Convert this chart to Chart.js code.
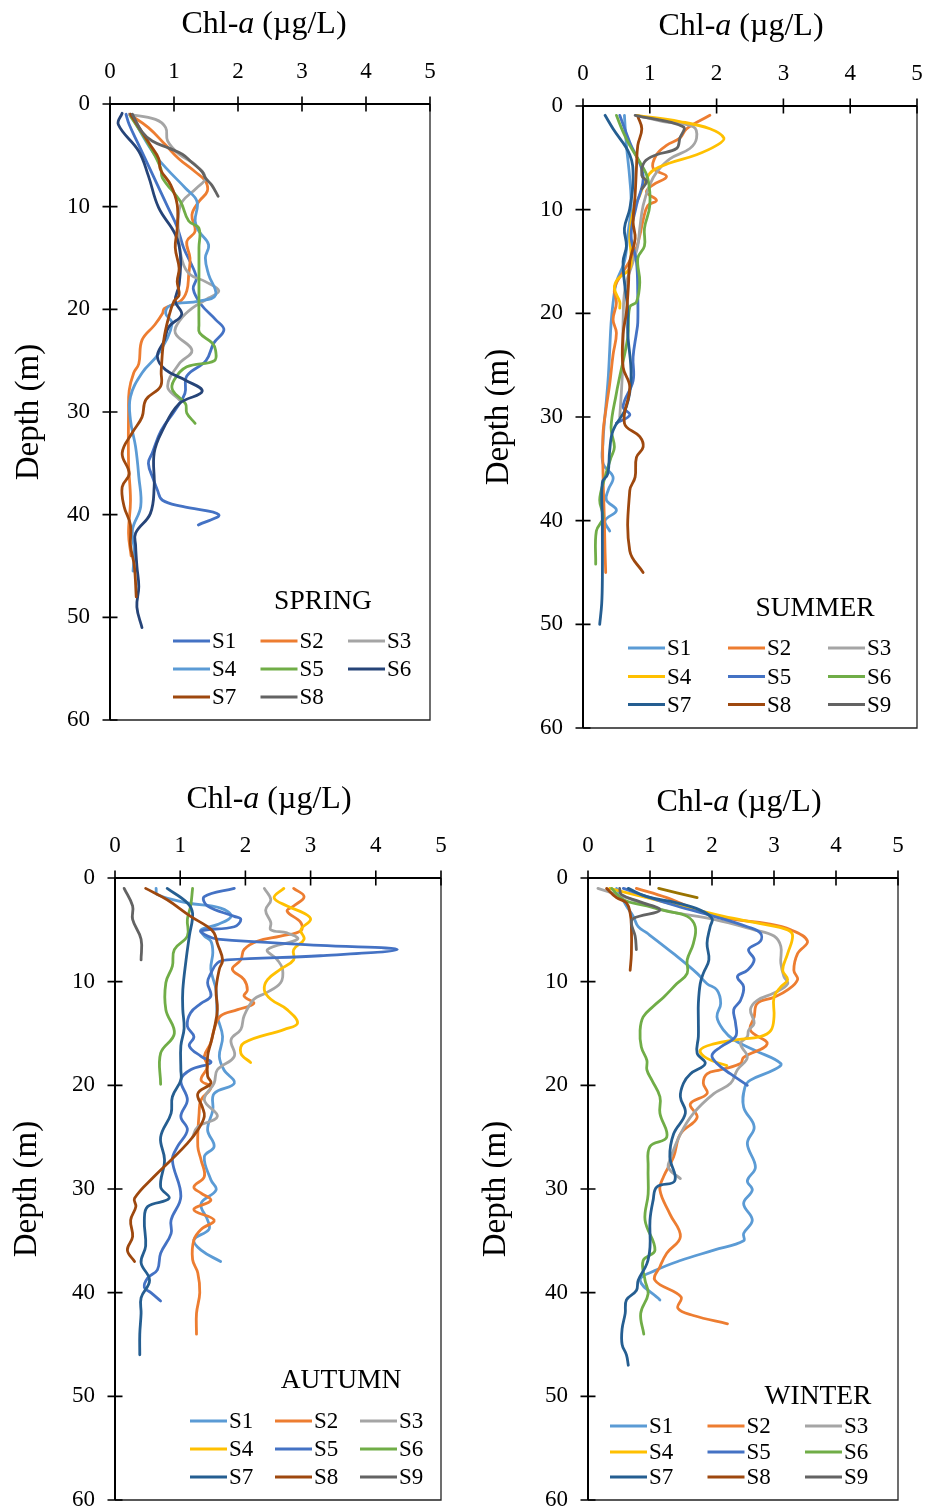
<!DOCTYPE html>
<html>
<head>
<meta charset="utf-8">
<script src="https://cdn.jsdelivr.net/npm/chart.js@4.4.1/dist/chart.umd.min.js"></script>
<style>
  html, body { margin: 0; padding: 0; background: #fff; }
  #wrap { position: relative; width: 934px; height: 1512px; overflow: hidden; }
  .panel { position: absolute; width: 467px; height: 756px; }
  canvas { display: block; }
</style>
</head>
<body>
<div id="wrap">
  <div class="panel" style="left:0;top:0"><canvas id="spring" width="467" height="756"></canvas></div>
  <div class="panel" style="left:467px;top:0"><canvas id="summer" width="467" height="756"></canvas></div>
  <div class="panel" style="left:0;top:756px"><canvas id="autumn" width="467" height="756"></canvas></div>
  <div class="panel" style="left:467px;top:756px"><canvas id="winter" width="467" height="756"></canvas></div>
</div>
<script>
// Eixos
const CHL_TICKS = [0, 1, 2, 3, 4, 5];
const DEPTH_TICKS = [0, 10, 20, 30, 40, 50, 60];

const LABELS_SPRING = ['S1', 'S2', 'S3', 'S4', 'S5', 'S6', 'S7', 'S8'];
const LABELS_OTHER = ['S1', 'S2', 'S3', 'S4', 'S5', 'S6', 'S7', 'S8', 'S9'];
const LABELS_WINTER = ['S1', 'S2', 'S3', 'S4', 'S5', 'S6', 'S7', 'S8', 'S9', ''];

const COLORS_SPRING = ['#4472C4', '#ED7D31', '#A5A5A5', '#5B9BD5', '#70AD47', '#264478', '#9E480E', '#636363'];
const COLORS_OTHER = ['#5B9BD5', '#ED7D31', '#A5A5A5', '#FFC000', '#4472C4', '#70AD47', '#255E91', '#9E480E', '#636363', '#997300'];

// Perfis: [profundidade (m), Chl-a (µg/L)]
// SPRING
const SPRING_S1 = [[1,0.25],[2,0.3],[4,0.45],[6,0.6],[8,0.75],[10,0.9],[12,1.05],[14,1.15],[16,1.3],[17,1.35],[18,1.3],[19.5,1.42],[21,1.65],[22,1.78],[23.3,1.62],[25,1.5],[26.5,1.2],[28.2,1.17],[29.8,1.02],[31.8,0.8],[34,0.66],[35,0.6],[36.6,0.68],[37.6,0.74],[38.6,0.82],[39.2,1.13],[40,1.7],[41,1.38]];
const SPRING_S2 = [[1,0.3],[2.3,0.6],[4,0.87],[5.3,1.07],[6.6,1.33],[7.5,1.49],[8.5,1.52],[9.5,1.39],[10.8,1.28],[12.4,1.33],[13.4,1.2],[15,1.25],[16.6,1.23],[18.2,1.2],[19.2,1.1],[19.9,0.85],[20.4,0.82],[21.5,0.7],[23,0.5],[25.3,0.45],[26.2,0.37],[27.9,0.3],[30,0.29],[35,0.29],[38.6,0.32],[41.8,0.29],[44,0.33]];
const SPRING_S3 = [[1,0.3],[1.5,0.71],[2.3,0.87],[3.6,0.9],[4.9,1.08],[5.9,1.33],[7.2,1.49],[8.2,1.35],[9.5,1.13],[10.8,1.07],[12.7,1.07],[15.3,1.13],[16.6,1.25],[17.3,1.49],[18.2,1.7],[18.9,1.54],[19.9,1.28],[21,1.1],[22.3,1.02],[24,1.28],[25.3,1.08],[27.5,0.9],[28.8,1.08]];
const SPRING_S4 = [[1,0.32],[4.6,0.66],[6.2,0.87],[8.2,1.18],[9.5,1.36],[11.4,1.33],[12.4,1.39],[13.7,1.54],[15,1.49],[16.6,1.54],[18.6,1.65],[19.2,1.39],[19.6,0.95],[20.4,0.87],[21.4,0.97],[24.3,0.76],[26.2,0.5],[28.5,0.32],[30.8,0.32],[33.4,0.4],[36.3,0.45],[39.2,0.48],[41.5,0.35],[43.5,0.38],[45.5,0.36]];
const SPRING_S5 = [[1.2,0.32],[4,0.61],[6.2,0.79],[7.2,0.82],[9.5,1.1],[11.4,1.23],[12.1,1.39],[14,1.39],[18,1.39],[21.5,1.39],[22.3,1.4],[23.3,1.6],[24,1.65],[25,1.63],[25.6,1.2],[26.9,1.0],[27.9,0.98],[29.2,1.18],[30.1,1.2],[31.1,1.33]];
const SPRING_S6 = [[0.9,0.19],[2,0.13],[4.6,0.45],[7,0.6],[10.1,0.76],[12.7,1.02],[14.7,1.1],[17.6,1.08],[19.2,1.02],[20.5,1.12],[21.7,0.92],[23,0.85],[24.6,0.74],[25.9,0.87],[26.9,1.18],[28,1.44],[29.2,1.08],[31.8,0.82],[34,0.69],[37.3,0.69],[39.9,0.63],[41.8,0.4],[43,0.4],[45,0.42],[47,0.45],[49,0.42],[51,0.5]];
const SPRING_S7 = [[1,0.32],[4,0.63],[5.3,0.76],[6.4,0.79],[7.9,0.95],[9.8,1.05],[12.1,1.05],[14,1.02],[16,1.08],[17.3,1.05],[18.6,1.08],[19.2,1.0],[20.7,0.92],[23,0.84],[26,0.8],[27.5,0.79],[28.8,0.56],[30.5,0.5],[32,0.35],[34,0.19],[36,0.3],[37.3,0.19],[39.2,0.22],[41,0.32],[43,0.32],[45,0.38],[48,0.41]];
const SPRING_S8 = [[1,0.35],[2.7,0.5],[3.6,0.66],[4.3,0.92],[4.9,1.13],[5.7,1.28],[6.6,1.44],[7.2,1.49],[7.9,1.59],[9,1.69]];

// SUMMER
const SUMMER_S1 = [[0.9,0.62],[3.8,0.65],[7,0.7],[9.6,0.72],[12.5,0.67],[15,0.62],[17,0.5],[19,0.45],[21,0.42],[23.5,0.4],[26,0.38],[28.4,0.35],[30.5,0.32],[32.3,0.3],[34.5,0.3],[35.8,0.45],[37,0.38],[38,0.35],[39,0.5],[40,0.33],[41,0.4]];
const SUMMER_S2 = [[0.9,1.9],[2.2,1.55],[3.1,1.45],[3.8,1.25],[4.7,1.1],[6,1.05],[6.8,1.25],[7.6,1.05],[8.3,0.95],[9.1,1.1],[9.6,0.97],[11,0.9],[12.5,0.85],[14,0.78],[16,0.6],[17.6,0.47],[19,0.5],[20.6,0.45],[21.9,0.5],[24,0.45],[26.8,0.4],[29,0.35],[31.6,0.3],[35.5,0.3],[40,0.32],[43,0.33],[45,0.34]];
const SUMMER_S3 = [[0.9,0.8],[1.5,1.2],[2,1.65],[3.1,1.7],[4.1,1.6],[5.1,1.3],[6.4,1.1],[7.6,1.0],[9.6,0.9],[11.8,0.85],[13.5,0.82],[15,0.75],[17.6,0.63],[20.9,0.6],[24,0.6],[27,0.58],[30,0.55]];
const SUMMER_S4 = [[0.9,0.8],[1.5,1.45],[2.2,1.9],[3.1,2.11],[3.8,2.0],[4.7,1.7],[5.5,1.3],[6.2,1.05],[7,0.95],[8.6,0.85],[10.2,0.75],[12.5,0.7],[14.4,0.72],[15.7,0.7],[16.7,0.52],[17.6,0.47],[18.9,0.55],[19.5,0.55]];
const SUMMER_S5 = [[0.9,0.55],[3.5,0.7],[6.7,0.9],[9.6,0.8],[12.5,0.72],[15,0.8],[18.3,0.82],[20.9,0.82],[21.9,0.8],[24.2,0.75],[26.5,0.75],[29,0.6],[29.8,0.7],[30.6,0.5]];
const SUMMER_S6 = [[0.9,0.5],[2.5,0.6],[3.8,0.7],[5.4,0.85],[7,0.97],[9.6,1.0],[11.8,0.92],[13.5,0.92],[14.7,0.82],[17,0.85],[18.9,0.8],[19.4,0.7],[22.3,0.67],[26.1,0.55],[27.7,0.5],[31,0.42],[32.9,0.47],[33.9,0.42],[36,0.32],[38,0.25],[39.7,0.3],[41,0.2],[44.2,0.19]];
const SUMMER_S7 = [[0.9,0.33],[2.2,0.45],[4.7,0.7],[7,0.75],[9.9,0.7],[11.8,0.62],[13.5,0.65],[15,0.6],[17,0.62],[19.6,0.67],[21.9,0.67],[26.1,0.72],[29,0.65],[31.3,0.45],[33.2,0.4],[35.5,0.37],[36.3,0.29],[40,0.29],[45.5,0.29],[48,0.28],[50,0.25]];
const SUMMER_S8 = [[1,0.82],[2.2,0.88],[3.8,0.82],[6,0.8],[8.6,0.78],[11.2,0.75],[12.8,0.78],[15,0.7],[17.3,0.68],[19.9,0.65],[22,0.6],[25.2,0.6],[27.1,0.7],[30.6,0.62],[31.9,0.85],[32.9,0.9],[33.9,0.8],[35.8,0.78],[37.1,0.7],[42.9,0.7],[45,0.9]];
const SUMMER_S9 = [[0.9,0.78],[2,1.5],[3.1,1.45],[4.1,1.4],[4.7,1.1],[5.4,0.92],[6.7,0.88],[7.3,0.95],[8,0.88]];

// AUTUMN
const AUTUMN_S1 = [[1,0.63],[1.6,0.65],[2.4,1.11],[2.9,1.62],[3.7,1.78],[4.5,1.57],[5,1.32],[5.6,1.37],[6.1,1.47],[7.2,1.5],[8.8,1.47],[10.8,1.55],[13.3,1.57],[15.3,1.65],[17.2,1.6],[18.5,1.67],[19.8,1.83],[20.8,1.52],[22.4,1.5],[24.3,1.42],[25.9,1.52],[26.9,1.37],[29.1,1.47],[30.1,1.55],[31.4,1.32],[33,1.42],[33.9,1.44],[34.9,1.21],[35.9,1.32],[37,1.62]];
const AUTUMN_S2 = [[1,2.74],[1.8,2.9],[2.7,2.74],[3.2,2.64],[4.3,2.85],[5.1,2.85],[5.6,2.54],[6.1,2.18],[6.9,1.98],[7.9,1.93],[8.8,1.8],[9.8,1.98],[10.8,2.03],[11.4,1.98],[12.1,2.13],[12.7,1.88],[13.3,1.62],[14.6,1.52],[15.9,1.47],[17.2,1.37],[18.2,1.42],[19.5,1.32],[20.2,1.47],[21.4,1.32],[22.7,1.29],[25.9,1.27],[27.2,1.32],[28.8,1.37],[29.8,1.21],[30.4,1.32],[31.1,1.47],[32,1.21],[33,1.52],[33.9,1.32],[34.9,1.21],[36.8,1.19],[38.1,1.27],[40,1.3],[42,1.25],[44,1.25]];
const AUTUMN_S3 = [[1,2.29],[2.1,2.39],[3.1,2.31],[4.3,2.39],[5,2.39],[5.3,2.64],[5.9,2.8],[6.9,2.34],[7.9,2.49],[8.8,2.57],[10.1,2.54],[11.1,2.31],[11.7,2.13],[13.3,1.98],[14.6,1.93],[15.6,1.78],[17.2,1.83],[18.5,1.57],[19.8,1.52],[21.4,1.37],[23,1.57],[24,1.27],[25,1.19]];
const AUTUMN_S4 = [[1,2.59],[1.9,2.44],[2.7,2.64],[3.4,2.9],[4,3.0],[5,2.85],[5.9,2.9],[6.9,2.74],[7.9,2.74],[8.8,2.54],[9.8,2.34],[10.8,2.29],[11.7,2.39],[12.7,2.64],[14,2.8],[14.6,2.6],[15.9,1.98],[16.9,1.93],[17.8,2.08]];
const AUTUMN_S5 = [[1,1.83],[1.8,1.37],[2.7,1.42],[3.7,1.83],[4,1.93],[4.7,1.83],[5.1,1.32],[5.6,1.42],[5.9,1.57],[6.5,3.15],[6.9,4.33],[7.5,3.15],[7.9,1.72],[8.2,1.57],[9.2,1.47],[10.1,1.42],[11.4,1.47],[12.1,1.32],[13,1.16],[14.3,1.11],[15.3,1.21],[16.2,1.14],[17.2,1.32],[17.8,1.47],[18.5,1.16],[19.5,1.01],[21.4,1.11],[23,1.01],[24.3,1.11],[25.9,0.96],[27.2,0.88],[30.7,1.01],[33,0.86],[34.3,0.86],[36.2,0.7],[37.8,0.65],[38.6,0.5],[39.5,0.45],[40,0.55],[40.8,0.7]];
const AUTUMN_S6 = [[1,1.19],[2.7,1.16],[4,1.11],[5.6,1.11],[6.9,0.91],[8.5,0.88],[10.1,0.78],[12.7,0.78],[15,0.91],[16.9,0.7],[19.9,0.7]];
const AUTUMN_S7 = [[1,0.8],[2.4,1.11],[3.4,1.19],[5.6,1.14],[7.9,1.09],[10.8,1.04],[12.7,1.04],[14.5,1.06],[16.2,1.01],[18.5,1.01],[19.5,1.01],[21.1,0.88],[22.7,0.86],[25,0.7],[27.2,0.76],[29.8,0.7],[30.9,0.83],[31.7,0.5],[33,0.45],[35.5,0.47],[37.1,0.4],[38.8,0.53],[40.5,0.4],[42,0.4],[44,0.38],[46,0.38]];
const AUTUMN_S8 = [[1,0.47],[2.1,0.8],[3.7,1.16],[4.7,1.42],[5.3,1.52],[6.3,1.57],[7.9,1.65],[8.8,1.6],[10.8,1.55],[12.7,1.57],[14.6,1.52],[15.9,1.47],[17.2,1.42],[19.1,1.42],[19.8,1.47],[20.8,1.27],[22.1,1.34],[23,1.37],[24.3,1.27],[25.6,1.11],[27.2,0.86],[28.8,0.6],[30.9,0.3],[31.7,0.32],[33,0.24],[34.6,0.27],[35.9,0.19],[37,0.3]];
const AUTUMN_S9 = [[1,0.14],[2.7,0.27],[4,0.27],[5.9,0.4],[7.9,0.4]];

// WINTER
const WINTER_S1 = [[1,0.46],[2.7,0.62],[3.7,0.73],[4.7,0.81],[5.3,0.95],[7.3,1.38],[9.2,1.76],[10.2,1.92],[10.8,2.08],[12.1,2.14],[13.4,2.08],[14.7,2.19],[15.6,2.35],[16.6,2.68],[17.9,3.11],[18.5,3.0],[19.5,2.62],[20.2,2.53],[22.1,2.51],[24,2.68],[25.6,2.57],[27.9,2.7],[29.2,2.57],[30.1,2.65],[31.4,2.51],[33,2.65],[34.3,2.51],[35,2.51],[35.9,2.03],[36.9,1.49],[37.8,1.11],[38.8,0.84],[40.7,1.16]];
const WINTER_S2 = [[1,0.78],[1.9,1.27],[2.7,1.6],[3.4,1.92],[4,2.35],[4.4,2.89],[5,3.27],[6.1,3.54],[7.3,3.38],[8.9,3.32],[9.8,3.38],[10.8,3.22],[11.5,3.0],[12.1,2.73],[13.4,2.68],[14.7,2.62],[16,2.89],[17.3,2.51],[17.9,2.46],[18.5,2.14],[18.9,1.92],[19.8,1.86],[20.8,1.92],[21.8,1.65],[23.1,1.76],[24.7,1.49],[26.9,1.38],[28.8,1.22],[30.1,1.16],[32.4,1.32],[34.6,1.49],[36.2,1.27],[37.5,1.16],[38.8,1.08],[40.4,1.5],[41.5,1.45],[42.2,1.7],[43,2.25]];
const WINTER_S3 = [[1,0.16],[1.8,0.57],[3.1,1.22],[4,2.03],[5,2.68],[5.6,3.0],[6.6,3.11],[8.2,3.11],[9.5,3.16],[10.2,3.22],[11.1,3.0],[11.8,2.73],[12.7,2.62],[14,2.68],[14.7,2.59],[15.3,2.57],[16,2.46],[17.3,2.57],[18.5,2.41],[19.8,2.3],[20.8,2.03],[22.7,1.7],[24.7,1.49],[27.2,1.32],[28,1.3],[29,1.49]];
const WINTER_S4 = [[1,0.35],[1.9,0.95],[2.7,1.49],[3.7,2.19],[4.4,2.78],[5,3.22],[5.6,3.3],[7.3,3.22],[8.9,3.14],[9.8,3.22],[10.5,3.11],[11.5,3.0],[13.4,3.0],[14.7,2.95],[15.3,2.78],[15.6,2.41],[16,2.03],[16.6,1.81],[17.4,1.92],[18.1,2.24]];
const WINTER_S5 = [[1,0.57],[1.8,0.95],[2.7,1.43],[3.7,2.03],[4.7,2.57],[5.3,2.78],[6.1,2.78],[6.9,2.59],[7.9,2.68],[8.9,2.57],[9.5,2.41],[10.5,2.51],[11.8,2.46],[12.7,2.35],[14,2.38],[15.3,2.38],[16.3,2.14],[17.1,2.0],[17.9,2.08],[18.9,2.3],[20,2.57]];
const WINTER_S6 = [[1,0.38],[2.1,0.57],[2.7,0.95],[3.2,1.27],[3.7,1.6],[4.7,1.73],[6.3,1.7],[7.9,1.6],[9.2,1.6],[10.2,1.43],[11.5,1.22],[12.4,1.05],[13.4,0.89],[14.7,0.84],[16.3,0.86],[17.6,0.95],[18.5,0.95],[19.5,1.03],[21.1,1.16],[22.7,1.16],[25,1.27],[25.9,1.0],[27.9,0.97],[30.5,0.97],[33,0.92],[35.9,1.08],[36.9,0.89],[38.8,0.92],[40.1,0.97],[42,0.85],[44,0.9]];
const WINTER_S7 = [[1,0.65],[1.8,0.95],[2.4,1.43],[3.1,1.81],[3.9,2.0],[4.7,1.97],[6.3,1.92],[7.9,1.95],[9.2,1.86],[10.2,1.81],[12.1,1.78],[13.7,1.78],[15.3,1.78],[16.9,1.76],[17.9,1.89],[18.9,1.65],[19.8,1.54],[21.1,1.49],[22.7,1.57],[24.7,1.38],[26.9,1.32],[29.2,1.4],[29.8,1.11],[31.1,1.05],[33,1.0],[35.6,1.0],[37.2,0.95],[38.8,0.81],[39.8,0.78],[40.7,0.62],[42,0.6],[43.5,0.55],[45,0.55],[46,0.62],[47,0.65]];
const WINTER_S8 = [[1,0.3],[1.9,0.46],[2.4,0.62],[3.4,0.68],[4.7,0.7],[7.3,0.7],[8.9,0.68]];
const WINTER_S9 = [[1,0.51],[1.6,0.54],[2.3,0.84],[3.1,1.16],[3.9,0.73],[4.4,0.7],[5.6,0.76],[6.9,0.78]];
const WINTER_S10 = [[1,1.14],[1.9,1.76]];

const FONT = '"Liberation Serif", "Times New Roman", serif';

// Moldura, marcas de escala, título do eixo X e legenda interna
const panelDecor = {
    id: 'panelDecor',
    beforeDatasetsDraw(chart) {
        const ctx = chart.ctx;
        const { left, top, right, bottom } = chart.chartArea;
        const xs = chart.scales.x, ys = chart.scales.y;
        ctx.save();
        ctx.strokeStyle = '#222';
        ctx.lineWidth = 1.3;
        ctx.beginPath();
        ctx.moveTo(right, top);
        ctx.lineTo(right, bottom);
        ctx.lineTo(left, bottom);
        ctx.stroke();
        ctx.strokeStyle = '#000';
        ctx.lineWidth = 2;
        ctx.beginPath();
        ctx.moveTo(left, bottom);
        ctx.lineTo(left, top);
        ctx.lineTo(right, top);
        ctx.stroke();
        ctx.lineWidth = 1.6;
        ctx.beginPath();
        xs.ticks.forEach(t => {
            const px = xs.getPixelForValue(t.value);
            ctx.moveTo(px, top - 7.5);
            ctx.lineTo(px, top + 7.5);
        });
        ys.ticks.forEach(t => {
            const py = ys.getPixelForValue(t.value);
            ctx.moveTo(left - 7.5, py);
            ctx.lineTo(left + 7.5, py);
        });
        ctx.stroke();
        ctx.restore();
    },
    afterDraw(chart, args, opts) {
        const ctx = chart.ctx;
        ctx.save();
        ctx.fillStyle = '#000';
        ctx.textBaseline = 'middle';

        // Chl-a (µg/L) com "a" em itálico
        const parts = [['Chl-', ''], ['a', 'italic '], [' (\u00b5g/L)', '']];
        let total = 0;
        parts.forEach(p => { ctx.font = p[1] + '32px ' + FONT; total += ctx.measureText(p[0]).width; });
        let x = opts.titleX - total / 2;
        ctx.textAlign = 'left';
        parts.forEach(p => {
            ctx.font = p[1] + '32px ' + FONT;
            ctx.fillText(p[0], x, opts.titleY);
            x += ctx.measureText(p[0]).width;
        });

        // estação
        ctx.font = '27.5px ' + FONT;
        ctx.textAlign = 'center';
        ctx.fillText(opts.season, opts.seasonX, opts.seasonY);

        // legenda em 3 colunas
        ctx.font = '23px ' + FONT;
        ctx.textAlign = 'left';
        let k = 0;
        chart.data.datasets.forEach(ds => {
            if (!ds.label) return;
            const col = k % 3, row = Math.floor(k / 3);
            const lx = opts.legendX + col * opts.legendStep;
            const ly = opts.legendRows[row];
            ctx.strokeStyle = ds.borderColor;
            ctx.lineWidth = 3;
            ctx.beginPath();
            ctx.moveTo(lx, ly);
            ctx.lineTo(lx + 37, ly);
            ctx.stroke();
            ctx.fillText(ds.label, lx + 39, ly + 1);
            k++;
        });
        ctx.restore();
    }
};

function makeChart(id, series, labels, colors, box) {
    const datasets = series.map((pairs, i) => ({
        label: labels[i],
        data: pairs.map(p => ({ x: p[1], y: p[0] })),
        borderColor: colors[i],
        backgroundColor: colors[i],
        borderWidth: 2.8,
        pointRadius: 0,
        showLine: true,
        fill: false,
        tension: 0.4,
        borderCapStyle: 'round',
        borderJoinStyle: 'round',
        order: -i
    }));

    new Chart(document.getElementById(id), {
        type: 'scatter',
        data: { datasets },
        options: {
            responsive: false,
            animation: false,
            events: [],
            layout: { padding: { left: 0, top: box.padTop, right: box.padRight, bottom: box.padBottom } },
            plugins: {
                legend: { display: false },
                tooltip: { enabled: false },
                panelDecor: box
            },
            scales: {
                x: {
                    type: 'linear',
                    position: 'top',
                    min: 0,
                    max: 5,
                    afterBuildTicks: s => { s.ticks = CHL_TICKS.map(v => ({ value: v })); },
                    ticks: { font: { family: FONT, size: 23 }, color: '#000', padding: 18 },
                    grid: { display: false, drawTicks: false },
                    border: { display: false },
                    afterFit: s => { s.height = box.xAxisH; s.paddingLeft = 0; s.paddingRight = 0; }
                },
                y: {
                    type: 'linear',
                    reverse: true,
                    min: 0,
                    max: 60,
                    afterBuildTicks: s => { s.ticks = DEPTH_TICKS.map(v => ({ value: v })); },
                    ticks: { font: { family: FONT, size: 23 }, color: '#000', padding: 20 },
                    grid: { display: false, drawTicks: false },
                    border: { display: false },
                    title: {
                        display: true,
                        text: 'Depth (m)',
                        font: { family: FONT, size: 33 },
                        color: '#000',
                        padding: { top: box.yTitlePad, bottom: 0 }
                    },
                    afterFit: s => { s.width = box.yAxisW; s.paddingTop = 0; s.paddingBottom = 0; }
                }
            }
        },
        plugins: [panelDecor]
    });
}

function initializePage() {
    makeChart('spring',
        [SPRING_S1, SPRING_S2, SPRING_S3, SPRING_S4, SPRING_S5, SPRING_S6, SPRING_S7, SPRING_S8],
        LABELS_SPRING, COLORS_SPRING,
        { padTop: 44, xAxisH: 60, padRight: 37, padBottom: 36, yAxisW: 110, yTitlePad: 10,
          titleX: 264, titleY: 25, season: 'SPRING', seasonX: 323, seasonY: 602,
          legendX: 173, legendStep: 87.5, legendRows: [641, 669, 697] });

    makeChart('summer',
        [SUMMER_S1, SUMMER_S2, SUMMER_S3, SUMMER_S4, SUMMER_S5, SUMMER_S6, SUMMER_S7, SUMMER_S8, SUMMER_S9],
        LABELS_OTHER, COLORS_OTHER,
        { padTop: 44, xAxisH: 62, padRight: 17, padBottom: 28, yAxisW: 116, yTitlePad: 13,
          titleX: 274, titleY: 27, season: 'SUMMER', seasonX: 348, seasonY: 609,
          legendX: 161, legendStep: 100, legendRows: [648, 676.5, 704.5] });

    makeChart('autumn',
        [AUTUMN_S1, AUTUMN_S2, AUTUMN_S3, AUTUMN_S4, AUTUMN_S5, AUTUMN_S6, AUTUMN_S7, AUTUMN_S8, AUTUMN_S9],
        LABELS_OTHER, COLORS_OTHER,
        { padTop: 60, xAxisH: 62, padRight: 26, padBottom: 12, yAxisW: 115, yTitlePad: 8,
          titleX: 269, titleY: 44, season: 'AUTUMN', seasonX: 341, seasonY: 625,
          legendX: 190, legendStep: 85, legendRows: [665, 693, 721] });

    makeChart('winter',
        [WINTER_S1, WINTER_S2, WINTER_S3, WINTER_S4, WINTER_S5, WINTER_S6, WINTER_S7, WINTER_S8, WINTER_S9, WINTER_S10],
        LABELS_WINTER, COLORS_OTHER,
        { padTop: 60, xAxisH: 62, padRight: 36, padBottom: 12, yAxisW: 121, yTitlePad: 10,
          titleX: 272, titleY: 47, season: 'WINTER', seasonX: 351, seasonY: 641,
          legendX: 143, legendStep: 97.5, legendRows: [670, 696, 721] });
}

document.addEventListener('DOMContentLoaded', initializePage);
</script>
</body>
</html>
